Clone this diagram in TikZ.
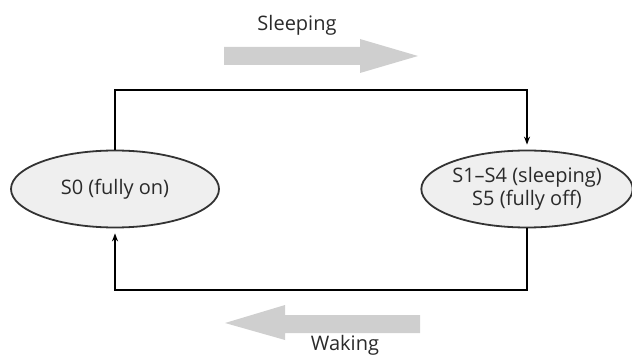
\documentclass[tikz,border=0pt]{standalone}
\usepackage{fontspec}
\setmainfont{Open Sans}
\usetikzlibrary{shapes.geometric,arrows.meta}
\definecolor{ellfill}{HTML}{EFEFEF}
\definecolor{ellline}{HTML}{333333}
\definecolor{bigarrow}{HTML}{CFCFCF}
\definecolor{txt}{HTML}{2A2A2A}
\begin{document}
\begin{tikzpicture}[x=1pt,y=-1pt,
  state/.style={ellipse,draw=ellline,fill=ellfill,line width=1.8pt,minimum width=208pt,minimum height=77pt,inner sep=0pt,align=center,text=txt,font=\fontsize{20}{23}\selectfont},
  conn/.style={line width=1.4pt,-{Stealth[length=8pt,width=6pt]},shorten >=5pt},
  lbl/.style={font=\fontsize{20}{23}\selectfont,inner sep=0pt,text=txt}]
\useasboundingbox (0,0) rectangle (632,358);
\node[state] (s0) at (115,189) {S0 (fully on)};
\node[state] (s1) at (527,189) {S1–S4 (sleeping)\\S5 (fully off)};
\coordinate (top) at (0,90);
\coordinate (bot) at (0,290);
\draw[conn] (s0.north) |- (top -| s1.north) -- (s1.north);
\draw[conn] (s1.south) |- (bot -| s0.south) -- (s0.south);
\fill[bigarrow] (224,47) -- (360,47) -- (360,39) -- (418,56) -- (360,73) -- (360,65) -- (224,65) -- cycle;
\fill[bigarrow] (420,315) -- (285,315) -- (285,305) -- (225,323) -- (285,340) -- (285,333) -- (420,333) -- cycle;
\node[lbl] (sl) at (297,25) {Sleeping};
\node[lbl] (wk) at (345,345) {Waking};
\end{tikzpicture}
\end{document}
